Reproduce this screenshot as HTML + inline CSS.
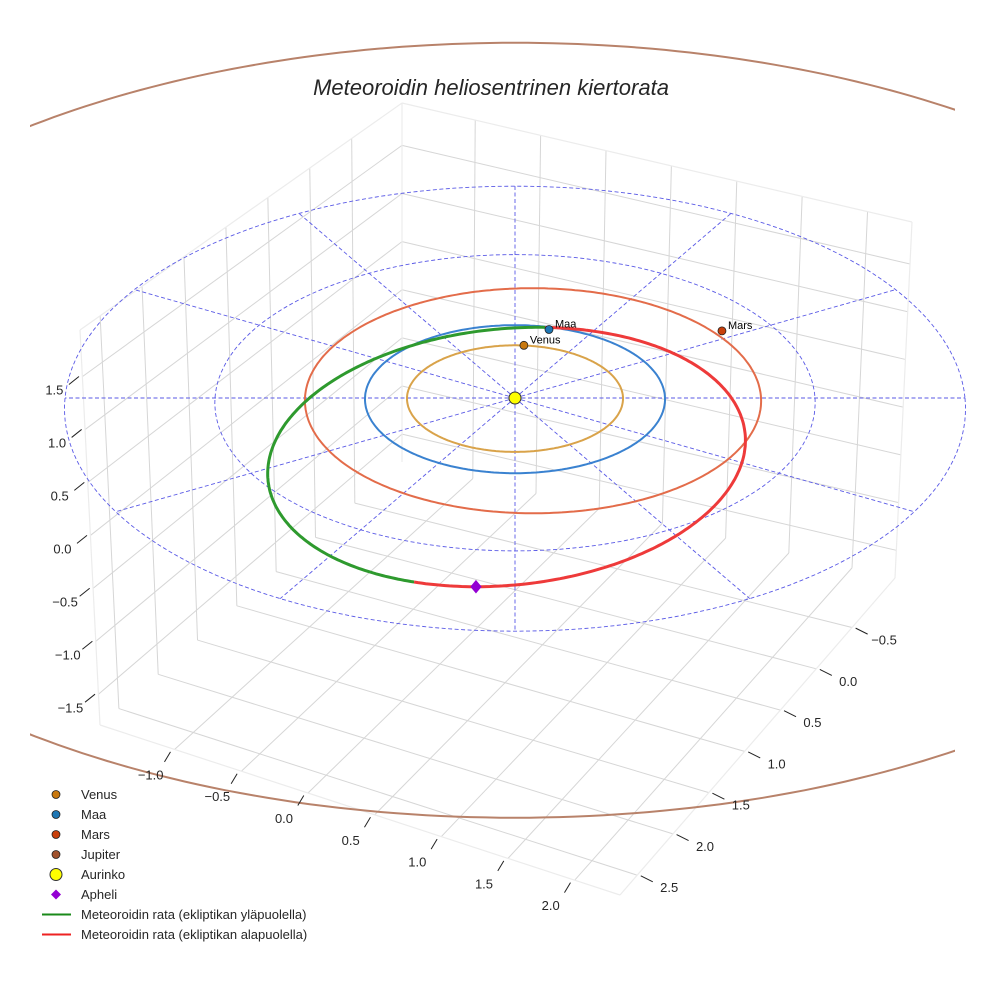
<!DOCTYPE html>
<html><head><meta charset="utf-8"><style>
html,body{margin:0;padding:0;background:#fff;}
svg{display:block;font-family:"Liberation Sans",sans-serif;}
</style></head><body>
<svg id="chart" width="984" height="984" viewBox="0 0 984 984">
<defs><clipPath id="clipAx"><rect x="30" y="0" width="925" height="984"/></clipPath></defs>
<g id="box"></g>
<g id="refgrid"></g>
<g id="orbits"></g>
<g id="ticks"></g>
<text x="491" y="95" text-anchor="middle" font-size="22" font-style="italic" fill="#262626">Meteoroidin heliosentrinen kiertorata</text>
<g id="legend"></g>
</svg>
<script>
// ---- data ----
const xTicks = [-1.0, -0.5, 0.0, 0.5, 1.0, 1.5, 2.0];
const yTicks = [-0.5, 0.0, 0.5, 1.0, 1.5, 2.0, 2.5];
const zTicks = [-1.5, -1.0, -0.5, 0.0, 0.5, 1.0, 1.5];
const planetNames = ["Venus", "Maa", "Mars"];
const planetX = [0.06, 0.23, 1.40];
const planetY = [-0.72, -0.94, -0.92];
const orbitRadii = [0.72, 1.0, 1.52, 5.2];
const orbitCenterX = [0.0, 0.0, 0.12, 0.0];
const refRadii = [1, 2, 3];
const refAngles = [0, 30, 60, 90, 120, 150, 180, 210, 240, 270, 300, 330];
const meteorCenter = [-0.05, 0.74];
const meteorRadii = [1.56, 1.71];
const meteorShear = [-0.2];
const meteorAboveRange = [105, 272];
const meteorBelowRange = [-88, 105];
const apheliT = [90];

const NS = "http://www.w3.org/2000/svg";
function mk(tag, attrs, parent) { const e = document.createElementNS(NS, tag); for (const k in attrs) e.setAttribute(k, attrs[k]); parent.appendChild(e); return e; }

const XR = [-1.56, 2.34], YR = [-1.1, 2.74], ZR = [-1.79, 1.94];
const C = {
  "000": [402, 462], "010": [100, 725], "110": [620, 895], "100": [895, 578],
  "001": [402, 103], "011": [80, 330], "111": [590, 449], "101": [912, 222]
};
function P(x, y, z) {
  const u = (x - XR[0]) / (XR[1] - XR[0]), v = (y - YR[0]) / (YR[1] - YR[0]), w = (z - ZR[0]) / (ZR[1] - ZR[0]);
  let px = 0, py = 0;
  for (const a of [0, 1]) for (const b of [0, 1]) for (const c of [0, 1]) {
    const wt = (a ? u : 1 - u) * (b ? v : 1 - v) * (c ? w : 1 - w);
    const p = C["" + a + b + c]; px += wt * p[0]; py += wt * p[1];
  }
  return [px, py];
}
const box = document.getElementById("box");
function ln(g, a, b, col, w, name) {
  const l = mk("line", { x1: a[0], y1: a[1], x2: b[0], y2: b[1], stroke: col, "stroke-width": w }, g);
  
  
  return l;
}
const gc = "#d6d6d6";
xTicks.forEach(x => ln(box, P(x, YR[0], ZR[0]), P(x, YR[1], ZR[0]), gc, 1, "floor-gridline-x"));
yTicks.forEach(y => ln(box, P(XR[0], y, ZR[0]), P(XR[1], y, ZR[0]), gc, 1, "floor-gridline-y"));
yTicks.forEach(y => ln(box, P(XR[0], y, ZR[0]), P(XR[0], y, ZR[1]), gc, 1, "left-wall-gridline-y"));
zTicks.forEach(z => ln(box, P(XR[0], YR[0], z), P(XR[0], YR[1], z), gc, 1, "left-wall-gridline-z"));
xTicks.forEach(x => ln(box, P(x, YR[0], ZR[0]), P(x, YR[0], ZR[1]), gc, 1, "back-wall-gridline-x"));
zTicks.forEach(z => ln(box, P(XR[0], YR[0], z), P(XR[1], YR[0], z), gc, 1, "back-wall-gridline-z"));
const ec = "#ececec";
[[[0,1,0],[1,1,0]],[[1,1,0],[1,0,0]],[[0,1,0],[0,1,1]],[[0,1,1],[0,0,1]],[[0,0,1],[1,0,1]],[[1,0,1],[1,0,0]],[[0,0,0],[0,0,1]]].forEach(e => {
  const f = q => P(q[0] ? XR[1] : XR[0], q[1] ? YR[1] : YR[0], q[2] ? ZR[1] : ZR[0]);
  ln(box, f(e[0]), f(e[1]), ec, 1.2, "pane-edge");
});

const tg = document.getElementById("ticks");
function tickLabel(p, off, dir, txt, name) {
  const cx = p[0] + off[0] * 0.3, cy = p[1] + off[1] * 0.3;
  ln(tg, [cx - dir[0], cy - dir[1]], [cx + dir[0], cy + dir[1]], "#222", 1, name + "-tick");
  const t = mk("text", { x: p[0] + off[0], y: p[1] + off[1] + 5, "text-anchor": "middle", "font-size": 13, fill: "#262626" }, tg);
  t.textContent = txt.replace("-", "\u2212");
  
  
}
const fmt = v => v.toFixed(1);
xTicks.forEach(x => tickLabel(P(x, YR[1], ZR[0]), [-24, 25], [3, -5], fmt(x), "x-axis"));
yTicks.forEach(y => tickLabel(P(XR[1], y, ZR[0]), [32, 12], [6, 3], fmt(y), "y-axis"));
zTicks.forEach(z => tickLabel(P(XR[0], YR[1], z), [-28, 13], [5, -4], fmt(z), "z-axis"));

function E(x, y) { const d = 1 - 0.016 * y; return [515 + 150 * x / d, 398 + 74 * y / d]; }
function pathFrom(fn, t0, t1, n) {
  let s = "";
  for (let i = 0; i <= n; i++) { const t = (t0 + (t1 - t0) * i / n) * Math.PI / 180; const p = fn(t); s += (i ? "L" : "M") + p[0].toFixed(1) + "," + p[1].toFixed(1); }
  return s;
}
const rg = document.getElementById("refgrid");
const dashCol = "#5a5ae6";
refRadii.forEach(r => {
  const p = mk("path", { d: pathFrom(t => E(r * Math.cos(t), r * Math.sin(t)), 0, 360, 180), fill: "none", stroke: dashCol, "stroke-width": 0.9, "stroke-dasharray": "4,2.5" }, rg);
  
  
});
refAngles.forEach(a => {
  const t = a * Math.PI / 180, r = refRadii[refRadii.length - 1];
  const p = mk("path", { d: "M" + E(0, 0).join(",") + "L" + E(r * Math.cos(t), r * Math.sin(t)).join(","), fill: "none", stroke: dashCol, "stroke-width": 0.9, "stroke-dasharray": "4,2.5" }, rg);
  
  
});

const og = document.getElementById("orbits");
const orbitColors = ["#d9a34a", "#3a82d0", "#e36c4a", "#b8826a"];
const orbitNames = ["venus-orbit", "earth-orbit", "mars-orbit", "jupiter-orbit"];
orbitRadii.forEach((r, i) => {
  const p = mk("path", { d: pathFrom(t => E(orbitCenterX[i] + r * Math.cos(t), r * Math.sin(t)), 0, 360, 360), fill: "none", stroke: orbitColors[i], "stroke-width": 2 }, og);
  if (i === 3) p.setAttribute("clip-path", "url(#clipAx)");
  
  
});
function meteor(t) { return E(meteorCenter[0] + meteorRadii[0] * Math.cos(t) + meteorShear[0] * Math.sin(t), meteorCenter[1] + meteorRadii[1] * Math.sin(t)); }
const mg = mk("path", { d: pathFrom(meteor, meteorAboveRange[0], meteorAboveRange[1], 200), fill: "none", stroke: "#2e9a2e", "stroke-width": 3 }, og);


const mr = mk("path", { d: pathFrom(meteor, meteorBelowRange[0], meteorBelowRange[1], 200), fill: "none", stroke: "#ee3a3a", "stroke-width": 3 }, og);



const planetColors = ["#c8780e", "#1f77b4", "#c8400c"];
planetNames.forEach((nm, i) => {
  const p = E(planetX[i], planetY[i]);
  const c = mk("circle", { cx: p[0], cy: p[1], r: 4, fill: planetColors[i], stroke: "#222", "stroke-width": 0.8 }, og);
  
  
  const t = mk("text", { x: p[0] + 6, y: p[1] - 2, "font-size": 11, fill: "#000" }, og);
  t.textContent = nm;
  
  
});
const s0 = E(0, 0);
const sun = mk("circle", { cx: s0[0], cy: s0[1], r: 6, fill: "#ffff00", stroke: "#333", "stroke-width": 1 }, og);


const ap = meteor(apheliT[0] * Math.PI / 180);
const apm = mk("path", { d: `M${ap[0]},${ap[1] - 6}L${ap[0] + 5},${ap[1]}L${ap[0]},${ap[1] + 6}L${ap[0] - 5},${ap[1]}Z`, fill: "#9400d3", stroke: "#9400d3", "stroke-width": 1 }, og);



const lg = document.getElementById("legend");
const legLabels = ["Venus", "Maa", "Mars", "Jupiter", "Aurinko", "Apheli", "Meteoroidin rata (ekliptikan yläpuolella)", "Meteoroidin rata (ekliptikan alapuolella)"];
const legColors = ["#c8780e", "#1f77b4", "#c8400c", "#a0522d", "#ffff00", "#9400d3", "#1a8a1a", "#ee2222"];
legLabels.forEach((lab, i) => {
  const y = 794.5 + i * 20;
  const g = mk("g", {}, lg);
  
  
  if (i < 4) mk("circle", { cx: 56, cy: y, r: 4, fill: legColors[i], stroke: "#222", "stroke-width": 0.8 }, g);
  else if (i === 4) mk("circle", { cx: 56, cy: y, r: 6, fill: legColors[i], stroke: "#333", "stroke-width": 1 }, g);
  else if (i === 5) mk("path", { d: `M56,${y - 5}L61,${y}L56,${y + 5}L51,${y}Z`, fill: legColors[i] }, g);
  else mk("line", { x1: 42, y1: y, x2: 71, y2: y, stroke: legColors[i], "stroke-width": 2 }, g);
  const t = mk("text", { x: 81, y: y + 4.5, "font-size": 13, fill: "#262626" }, g);
  t.textContent = lab;
});
</script>
</body></html>
